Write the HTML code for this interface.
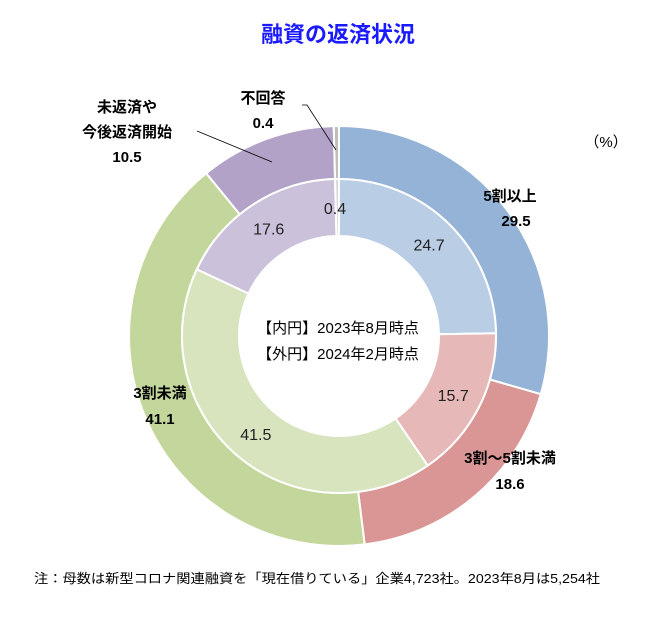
<!DOCTYPE html>
<html><head><meta charset="utf-8">
<style>
body{margin:0;background:#fff;width:650px;height:616px;overflow:hidden;font-family:"Liberation Sans","Noto Sans CJK JP",sans-serif;}
svg text{font-family:"Liberation Sans","Noto Sans CJK JP",sans-serif;}
</style></head>
<body>
<svg id="chart" width="650" height="616" viewBox="0 0 650 616">
<text x="338" y="42" text-anchor="middle" font-size="22" font-weight="bold" fill="#1a1aff">融資の返済状況</text>
<text x="606" y="147" text-anchor="middle" font-size="15" fill="#000">（%）</text>
<g id="rings"></g>
<text x="338" y="333" text-anchor="middle" font-size="15" fill="#000">【内円】2023年8月時点</text>
<text x="338" y="359" text-anchor="middle" font-size="15" fill="#000">【外円】2024年2月時点</text>
<g id="outer-labels" font-weight="bold" font-size="15" fill="#000">
<text x="510" y="201" text-anchor="middle">5割以上</text>
<text x="516" y="226" text-anchor="middle">29.5</text>
<text x="510" y="463" text-anchor="middle">3割～5割未満</text>
<text x="510" y="489" text-anchor="middle">18.6</text>
<text x="160" y="398" text-anchor="middle">3割未満</text>
<text x="160" y="424" text-anchor="middle">41.1</text>
<text x="127" y="112" text-anchor="middle">未返済や</text>
<text x="127" y="137" text-anchor="middle">今後返済開始</text>
<text x="127" y="162" text-anchor="middle">10.5</text>
<text x="263" y="103" text-anchor="middle">不回答</text>
<text x="263" y="128" text-anchor="middle">0.4</text>
</g>
<line x1="197" y1="131" x2="272" y2="162" stroke="#000" stroke-width="0.8"/>
<polyline points="302,105 307,105 336,150" fill="none" stroke="#000" stroke-width="0.8"/>
<text x="34" y="583" font-size="13" fill="#000" textLength="566" lengthAdjust="spacingAndGlyphs">注：母数は新型コロナ関連融資を「現在借りている」企業4,723社。2023年8月は5,254社</text>
</svg>
<script>
const categories=["5割以上","3割～5割未満","3割未満","未返済や今後返済開始","不回答"];
const outerValues=[29.5,18.6,41.1,10.5,0.4];
const innerValues=[24.7,15.7,41.5,17.6,0.4];
const innerLabels=["24.7","15.7","41.5","17.6","0.4"];
const outerColors=["#95b3d7","#d99694","#c3d69b","#b3a2c7","#bfbfbf"];
const innerColors=["#b9cde5","#e6b9b8","#d7e4bd","#ccc1da","#d9d9d9"];
const cx=339,cy=336;
const NS="http://www.w3.org/2000/svg";
const g=document.getElementById("rings");
function pt(r,a){return [cx+r*Math.sin(a),cy-r*Math.cos(a)];}
function arc(r0,r1,a0,a1){
 const large=(a1-a0)>Math.PI?1:0;
 const p0=pt(r1,a0),p1=pt(r1,a1),p2=pt(r0,a1),p3=pt(r0,a0);
 return `M${p0[0]},${p0[1]}A${r1},${r1} 0 ${large} 1 ${p1[0]},${p1[1]}L${p2[0]},${p2[1]}A${r0},${r0} 0 ${large} 0 ${p3[0]},${p3[1]}Z`;
}
function ring(vals,cols,r0,r1,names,labels){
 const tot=vals.reduce((a,b)=>a+b,0);let a=0;
 vals.forEach((v,i)=>{
  const a0=a/tot*2*Math.PI;a+=v;const a1=a/tot*2*Math.PI;
  const p=document.createElementNS(NS,"path");
  p.setAttribute("d",arc(r0,r1,a0,a1));
  p.setAttribute("fill",cols[i]);p.setAttribute("stroke","#fff");p.setAttribute("stroke-width","2");
  
  
  g.appendChild(p);
  if(labels){
   let am=(a0+a1)/2, rr=(r0+r1)/2;
   let q=pt(rr,am);
   if(v<2){q=[cx-4,cy-128];}
   const t=document.createElementNS(NS,"text");
   t.setAttribute("x",q[0]);t.setAttribute("y",q[1]+6);
   t.setAttribute("text-anchor","middle");t.setAttribute("font-size","16");t.setAttribute("fill","#222");
   t.textContent=labels[i];
   
   
   g.appendChild(t);
  }
 });
}
ring(outerValues,outerColors,157,210,"outer",null);
ring(innerValues,innerColors,100,157,"inner",innerLabels);
</script>
</body></html>
